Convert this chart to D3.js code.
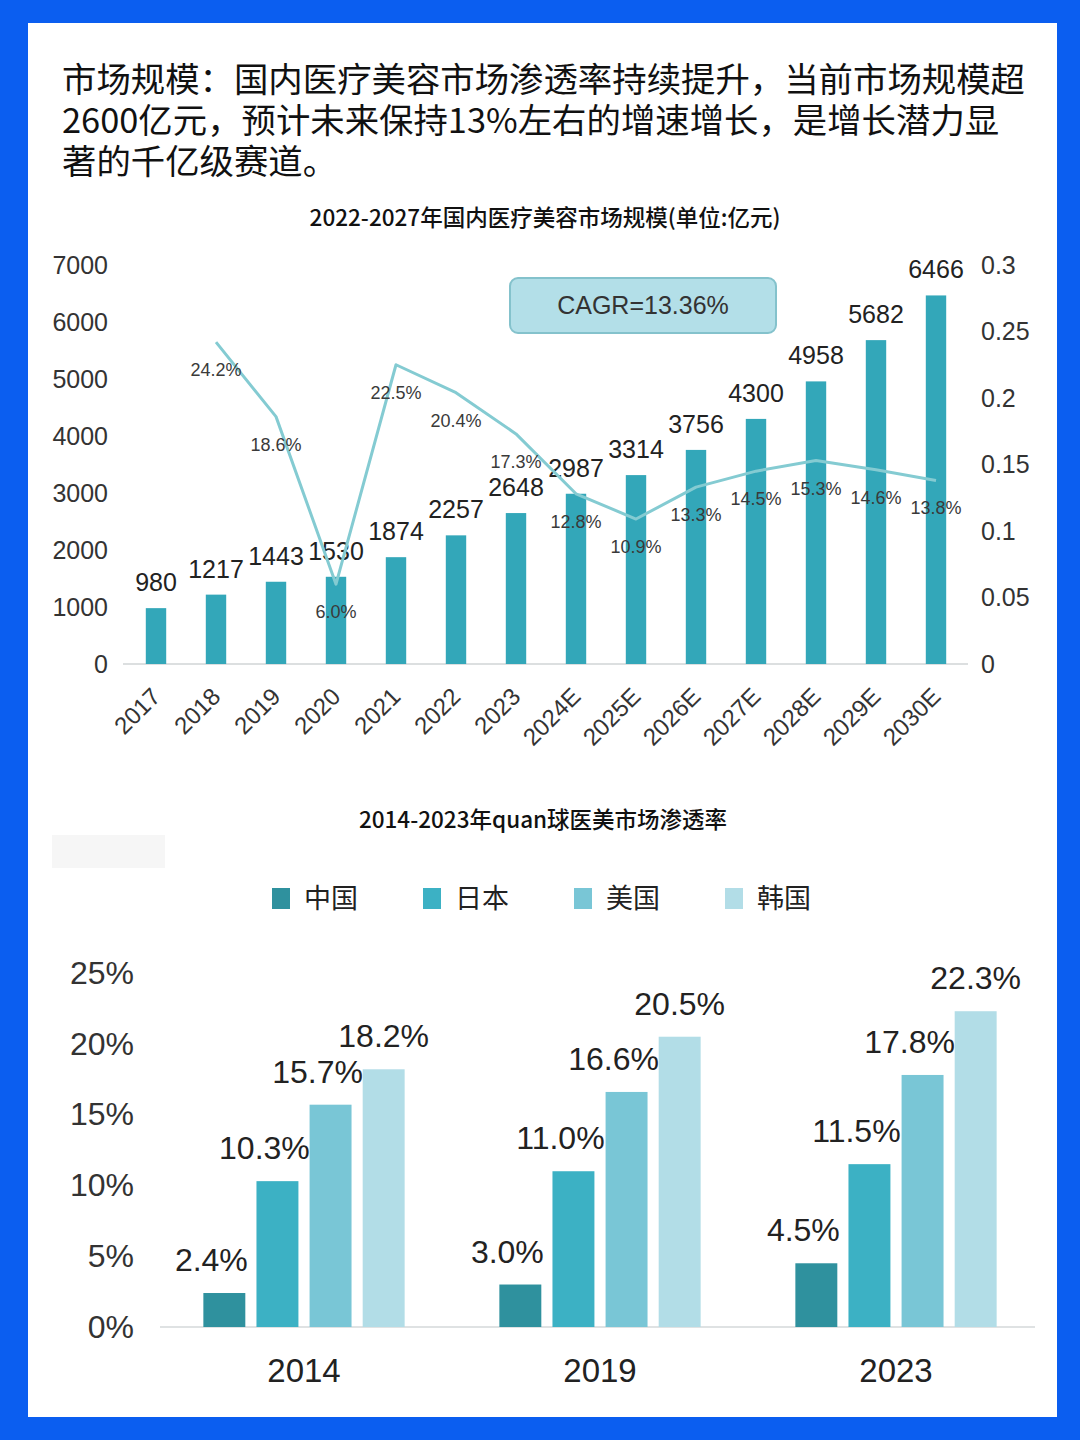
<!DOCTYPE html>
<html>
<head>
<meta charset="utf-8">
<script src="https://cdn.jsdelivr.net/npm/d3@7"></script>
<style>
  body { margin: 0; background: #0b5ef0; }
  svg { display: block; }
</style>
</head>
<body>
<div id="chart"></div>
<script>
// ---- data: market size chart ----
const years = ["2017", "2018", "2019", "2020", "2021", "2022", "2023", "2024E", "2025E", "2026E", "2027E", "2028E", "2029E", "2030E"];
const marketSize = [980, 1217, 1443, 1530, 1874, 2257, 2648, 2987, 3314, 3756, 4300, 4958, 5682, 6466];
const growthYears = ["2018", "2019", "2020", "2021", "2022", "2023", "2024E", "2025E", "2026E", "2027E", "2028E", "2029E", "2030E"];
const growthRate = [0.242, 0.186, 0.060, 0.225, 0.204, 0.173, 0.128, 0.109, 0.133, 0.145, 0.153, 0.146, 0.138];
const leftTicks = [0, 1000, 2000, 3000, 4000, 5000, 6000, 7000];
const rightTicks = [0, 0.05, 0.1, 0.15, 0.2, 0.25, 0.3];

// ---- data: penetration chart ----
const groups = ["2014", "2019", "2023"];
const countries = ["中国", "日本", "美国", "韩国"];
const penChina = [2.4, 3.0, 4.5];
const penJapan = [10.3, 11.0, 11.5];
const penUSA = [15.7, 16.6, 17.8];
const penKorea = [18.2, 20.5, 22.3];
const penTicks = [0, 5, 10, 15, 20, 25];

const W = 1080, H = 1440;
const svg = d3.select("#chart").append("svg").attr("width", W).attr("height", H);

// blue frame + white card
svg.append("rect").attr("width", W).attr("height", H).attr("fill", "#0b5ef0");
svg.append("rect").attr("x", 28).attr("y", 23).attr("width", 1029).attr("height", 1394).attr("fill", "#ffffff");

// heading text
const heading = [
  "市场规模：国内医疗美容市场渗透率持续提升，当前市场规模超",
  "2600亿元，预计未来保持13%左右的增速增长，是增长潜力显",
  "著的千亿级赛道。"
];
svg.append("g").selectAll("text").data(heading).enter().append("text")
  .attr("x", 62)
  .attr("y", (d, i) => 92 + i * 41)
  .attr("font-family", "'Noto Sans CJK SC', 'Noto Sans', sans-serif")
  .attr("font-size", 34.4)
  .attr("fill", "#111")
  .text(d => d);

const numFont = "'Liberation Sans', Arial, sans-serif";
const cjkFont = "'Noto Sans CJK SC', sans-serif";

// ================= chart 1 =================
svg.append("text").attr("x", 545).attr("y", 226).attr("text-anchor", "middle")
  .attr("font-family", cjkFont).attr("font-size", 22.5).attr("font-weight", 500).attr("fill", "#111")
  .text("2022-2027年国内医疗美容市场规模(单位:亿元)");

const x1 = d3.scaleBand().domain(years).range([126, 966]).paddingInner(0.66).paddingOuter(0.33);
const yL = d3.scaleLinear().domain([0, 7000]).range([664, 265]);
const yR = d3.scaleLinear().domain([0, 0.3]).range([664, 265]);

// left axis
const axL = svg.append("g").attr("transform", "translate(112,0)")
  .call(d3.axisLeft(yL).tickValues(leftTicks).tickSize(0).tickPadding(4).tickFormat(d3.format("d")));
axL.select(".domain").remove();
axL.selectAll("text").attr("font-family", numFont).attr("font-size", 25).attr("fill", "#333");

// right axis
const axR = svg.append("g").attr("transform", "translate(977,0)")
  .call(d3.axisRight(yR).tickValues(rightTicks).tickSize(0).tickPadding(4).tickFormat(d => d === 0 ? "0" : String(+d.toFixed(2))));
axR.select(".domain").remove();
axR.selectAll("text").attr("font-family", numFont).attr("font-size", 25).attr("fill", "#333");

// baseline
svg.append("line").attr("x1", 123).attr("x2", 968).attr("y1", yL(0)).attr("y2", yL(0))
  .attr("stroke", "#d0d4d6").attr("stroke-width", 1.5);

// bars
svg.append("g").selectAll("rect").data(years).enter().append("rect")
  .attr("x", d => x1(d))
  .attr("width", x1.bandwidth())
  .attr("y", (d, i) => yL(marketSize[i]))
  .attr("height", (d, i) => yL(0) - yL(marketSize[i]))
  .attr("fill", "#33a7b9");

// bar labels
svg.append("g").selectAll("text").data(years).enter().append("text")
  .attr("x", d => x1(d) + x1.bandwidth() / 2)
  .attr("y", (d, i) => yL(marketSize[i]) - 17)
  .attr("text-anchor", "middle")
  .attr("font-family", numFont).attr("font-size", 25).attr("fill", "#222")
  .text((d, i) => marketSize[i]);

// growth line
const cx = d => x1(d) + x1.bandwidth() / 2;
const lineFn = d3.line()
  .x((d, i) => cx(growthYears[i]))
  .y(d => yR(d));
svg.append("path").attr("d", lineFn(growthRate))
  .attr("fill", "none").attr("stroke", "#84cbd2").attr("stroke-width", 3)
  .attr("stroke-linejoin", "round");

svg.append("g").selectAll("text").data(growthRate).enter().append("text")
  .attr("x", (d, i) => cx(growthYears[i]))
  .attr("y", d => yR(d) + 34)
  .attr("text-anchor", "middle")
  .attr("font-family", numFont).attr("font-size", 18).attr("fill", "#3a3a3a")
  .text(d => (d * 100).toFixed(1) + "%");

// CAGR box
svg.append("rect").attr("x", 510).attr("y", 278).attr("width", 266).attr("height", 55).attr("rx", 8)
  .attr("fill", "#b3dfe8").attr("stroke", "#84c2cc").attr("stroke-width", 2);
svg.append("text").attr("x", 643).attr("y", 314).attr("text-anchor", "middle")
  .attr("font-family", numFont).attr("font-size", 25).attr("fill", "#333")
  .text("CAGR=13.36%");

// x labels rotated
svg.append("g").selectAll("text").data(years).enter().append("text")
  .attr("transform", d => `translate(${cx(d) + 6},${698}) rotate(-45)`)
  .attr("text-anchor", "end")
  .attr("font-family", numFont).attr("font-size", 24).attr("fill", "#333")
  .text(d => d);

// ================= chart 2 =================
svg.append("text").attr("x", 543).attr("y", 828).attr("text-anchor", "middle")
  .attr("font-family", cjkFont).attr("font-size", 22.5).attr("font-weight", 500).attr("fill", "#111")
  .text("2014-2023年quan球医美市场渗透率");

svg.append("rect").attr("x", 52).attr("y", 835).attr("width", 113).attr("height", 33).attr("fill", "#f6f6f6");

const colors = ["#2f919e", "#3cb1c4", "#79c6d6", "#b2dde7"];
const series = [penChina, penJapan, penUSA, penKorea];

// legend
const leg = svg.append("g").selectAll("g").data(countries).enter().append("g")
  .attr("transform", (d, i) => `translate(${272 + i * 151},888)`);
leg.append("rect").attr("width", 18).attr("height", 21).attr("fill", (d, i) => colors[i]);
leg.append("text").attr("x", 32).attr("y", 20)
  .attr("font-family", "'Noto Sans CJK SC', serif").attr("font-size", 27).attr("fill", "#222")
  .text(d => d);

const x0 = d3.scaleBand().domain(groups).range([156, 1044]).paddingInner(0.32).paddingOuter(0.16);
const xs = d3.scaleBand().domain(countries).range([0, x0.bandwidth()]).paddingInner(0.21);
const yP = d3.scaleLinear().domain([0, 25]).range([1327, 973]);

const axP = svg.append("g").attr("transform", "translate(134,0)")
  .call(d3.axisLeft(yP).tickValues(penTicks).tickSize(0).tickPadding(0).tickFormat(d => d + "%"));
axP.select(".domain").remove();
axP.selectAll("text").attr("font-family", numFont).attr("font-size", 32).attr("fill", "#333");

svg.append("line").attr("x1", 160).attr("x2", 1035).attr("y1", yP(0)).attr("y2", yP(0))
  .attr("stroke", "#d4d8da").attr("stroke-width", 1.5);

const gG = svg.append("g").selectAll("g").data(groups).enter().append("g")
  .attr("transform", d => `translate(${x0(d)},0)`);

gG.selectAll("rect").data((g, gi) => countries.map((c, ci) => ({ c, ci, v: series[ci][gi] })))
  .enter().append("rect")
  .attr("x", d => xs(d.c))
  .attr("width", xs.bandwidth())
  .attr("y", d => yP(d.v))
  .attr("height", d => yP(0) - yP(d.v))
  .attr("fill", d => colors[d.ci]);

gG.selectAll("text.val").data((g, gi) => countries.map((c, ci) => ({ c, ci, v: series[ci][gi] })))
  .enter().append("text").attr("class", "val")
  .attr("x", d => xs(d.c) + xs.bandwidth() / 2 + (d.ci < 3 ? -13 : 0))
  .attr("y", d => yP(d.v) - 22)
  .attr("text-anchor", "middle")
  .attr("font-family", numFont).attr("font-size", 32).attr("fill", "#222")
  .text(d => d.v.toFixed(1) + "%");

svg.append("g").selectAll("text").data(groups).enter().append("text")
  .attr("x", d => x0(d) + x0.bandwidth() / 2)
  .attr("y", 1382)
  .attr("text-anchor", "middle")
  .attr("font-family", numFont).attr("font-size", 33).attr("fill", "#222")
  .text(d => d);
</script>
</body>
</html>
